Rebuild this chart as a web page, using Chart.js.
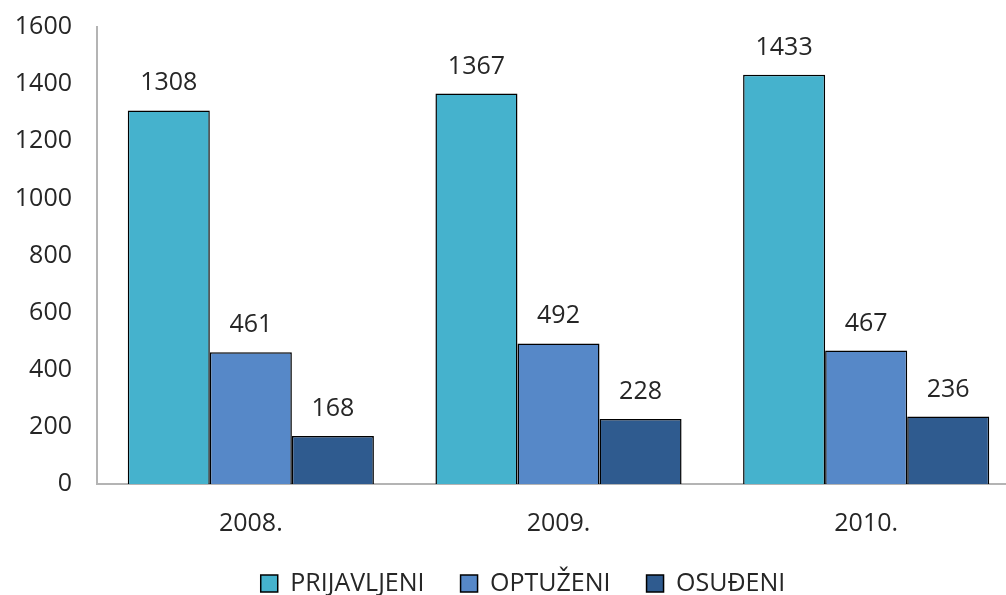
<!DOCTYPE html>
<html lang="hr">
<head>
  <meta charset="UTF-8" />
  <title>Prijavljeni, optuženi, osuđeni</title>
  <script src="https://cdn.jsdelivr.net/npm/chart.js"></script>
  <style>
    html, body {
      margin: 0;
      padding: 0;
      background: #fff;
      overflow: hidden;
    }
    .wrap {
      width: 1020px;
      height: 595px;
    }
  </style>
</head>
<body>
<div class="wrap">
  <canvas id="chart"></canvas>
</div>
<script>
const years = ["2008.", "2009.", "2010."];
const prijavljeni = [1308, 1367, 1433];
const optuzeni = [461, 492, 467];
const osudeni = [168, 228, 236];
const yTicks = [0, 200, 400, 600, 800, 1000, 1200, 1400, 1600];

const font = "'Open Sans', sans-serif";

// brojke iznad stupaca
const valueLabels = {
  id: "valueLabels",
  afterDatasetsDraw(chart) {
    const ctx = chart.ctx;
    ctx.save();
    ctx.font = "25px " + font;
    ctx.fillStyle = "#262626";
    ctx.textAlign = "center";
    ctx.textBaseline = "alphabetic";
    chart.data.datasets.forEach((ds, i) => {
      chart.getDatasetMeta(i).data.forEach((bar, j) => {
        ctx.fillText(ds.data[j], bar.x, bar.y - 20);
      });
    });
    ctx.restore();
  }
};

// legenda malo udesno, kao u originalu
const legendShift = {
  id: "legendShift",
  afterLayout(chart) {
    if (chart.legend) {
      chart.legend.left += 13;
      chart.legend.right += 13;
    }
  }
};

new Chart(document.getElementById("chart"), {
  type: "bar",
  data: {
    labels: years,
    datasets: [
      { label: "PRIJAVLJENI", data: prijavljeni, backgroundColor: "#45B2CD" },
      { label: "OPTUŽENI", data: optuzeni, backgroundColor: "#5688C8" },
      { label: "OSUĐENI", data: osudeni, backgroundColor: "#2F5B8F" }
    ].map(d => Object.assign(d, {
      borderColor: "#000",
      borderWidth: 1.5,
      borderSkipped: "bottom",
      categoryPercentage: 0.8,
      barPercentage: 1.0
    }))
  },
  options: {
    responsive: true,
    maintainAspectRatio: false,
    animation: false,
    layout: { padding: { top: 27, left: 0, right: 0, bottom: -11 } },
    scales: {
      x: {
        afterFit: axis => { axis.height = 51; },
        grid: { display: false, drawTicks: false },
        border: { color: "#B4B4B4", width: 2 },
        ticks: { color: "#262626", font: { family: font, size: 25 }, padding: 25 }
      },
      y: {
        min: 0,
        max: 1600,
        afterBuildTicks: axis => { axis.ticks = yTicks.map(v => ({ value: v })); },
        afterFit: axis => { axis.width = 97; axis.paddingTop = 0; axis.paddingBottom = 0; },
        grid: { display: false, drawTicks: false },
        border: { color: "#B4B4B4", width: 2 },
        ticks: {
          color: "#262626",
          font: { family: font, size: 25 },
          padding: 25,
          callback: v => String(v)
        }
      }
    },
    plugins: {
      legend: {
        position: "bottom",
        labels: {
          color: "#262626",
          font: { family: font, size: 25 },
          boxWidth: 17,
          boxHeight: 17,
          padding: 36
        }
      },
      tooltip: { enabled: false }
    }
  },
  plugins: [valueLabels, legendShift]
});
</script>
</body>
</html>
